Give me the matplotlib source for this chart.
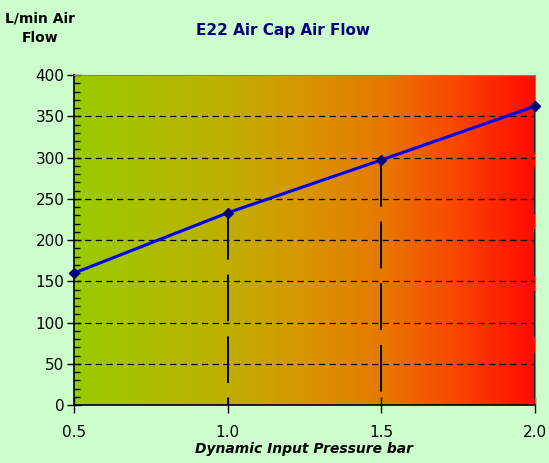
import numpy as np
import matplotlib.pyplot as plt
from matplotlib.colors import LinearSegmentedColormap
from matplotlib.ticker import MultipleLocator

# data
pressure = [0.5, 1.0, 1.5, 2.0]
flow = [160, 233, 297, 362]
x_ticks = [0.5, 1.0, 1.5, 2.0]
x_labels = ['0.5', '1.0', '1.5', '2.0']

fig = plt.figure(figsize=(5.49, 4.63), dpi=100, facecolor='#CCFFCC')
ax = fig.add_axes([0.135, 0.125, 0.839, 0.713])

# plot area gradient, yellow-green to red
cmap = LinearSegmentedColormap.from_list('bg', [
	(0.0, '#99CC00'), (0.33, '#BEAF00'), (0.5, '#D79600'),
	(0.67, '#E67800'), (0.83, '#FA4600'), (1.0, '#FF0A00')])
grad = np.linspace(0, 1, 256).reshape(1, -1)
ax.imshow(grad, cmap=cmap, aspect='auto', extent=[0.5, 2.0, 0, 400], zorder=0)

ax.set_xlim(0.5, 2.0)
ax.set_ylim(0, 400)

# horizontal dashed gridlines
for yv in range(50, 400, 50):
	ax.axhline(yv, color='black', lw=0.9, ls=(0, (5, 3.5)), zorder=1)

# drop lines from points down to axis
for xv, yv in zip(pressure[1:], flow[1:]):
	ax.plot([xv, xv], [yv, 0], color='black', lw=1.4, ls=(0, (24, 7.7)), zorder=2)

ax.plot(pressure, flow, color='#0000FF', lw=2.2, marker='D', ms=5,
	mfc='#000080', mec='#000080', zorder=3, clip_on=False)

ax.set_xticks(x_ticks)
ax.set_xticklabels(x_labels)
ax.yaxis.set_major_locator(MultipleLocator(50))
ax.yaxis.set_minor_locator(MultipleLocator(10))
ax.tick_params(axis='y', which='major', direction='inout', length=10, width=1, labelsize=11, pad=2)
ax.tick_params(axis='y', which='minor', direction='in', length=4, width=1)
ax.tick_params(axis='x', which='major', direction='inout', length=12, width=1, labelsize=11, pad=8)

for s in ['top', 'right']:
	ax.spines[s].set_color('#808080')
for s in ['left', 'bottom']:
	ax.spines[s].set_color('black')
	ax.spines[s].set_linewidth(1.2)

fig.text(0.516, 0.935, 'E22 Air Cap Air Flow', color='#000080', fontsize=11,
	fontweight='bold', ha='center', va='center')
fig.text(0.073, 0.94, 'L/min Air\nFlow', color='black', fontsize=10,
	fontweight='bold', ha='center', va='center', linespacing=1.5)
ax.set_xlabel('Dynamic Input Pressure bar', fontsize=10, fontweight='bold',
	fontstyle='italic', labelpad=2)

plt.savefig('out.png', dpi=100, facecolor=fig.get_facecolor())
